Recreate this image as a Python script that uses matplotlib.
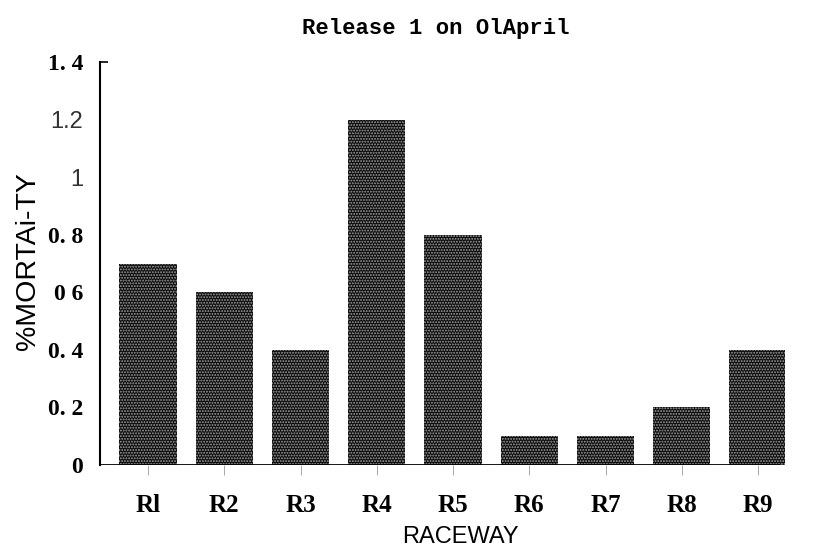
import matplotlib
matplotlib.use("Agg")
import matplotlib.pyplot as plt

# values
raceways = ["Rl", "R2", "R3", "R4", "R5", "R6", "R7", "R8", "R9"]
mortality = [0.7, 0.6, 0.4, 1.2, 0.8, 0.1, 0.1, 0.2, 0.4]
ytick_vals = [0, 0.2, 0.4, 0.6, 0.8, 1.0, 1.2, 1.4]
ytick_text = ["0", "0. 2", "0. 4", "0 6", "0. 8", "1", "1.2", "1. 4"]
ytick_bold = [True, True, True, True, True, False, False, True]

plt.rcParams["hatch.linewidth"] = 0.9

fig = plt.figure(figsize=(8.21, 5.53), dpi=100)
ax = fig.add_axes([0.1218, 0.159, 0.834, 0.729])

x = range(len(raceways))
ax.bar(x, mortality, width=0.75, color="#0e0e0e", edgecolor="#a0a0a0",
       linewidth=0, hatch="......", zorder=2)
ax.axhline(0, color="black", lw=2, xmin=0, xmax=0.99, zorder=3)

ax.set_xlim(-0.63, 8.35)
ax.set_ylim(0, 1.4)

for side in ["top", "right", "bottom"]:
    ax.spines[side].set_visible(False)
ax.spines["left"].set_linewidth(1.5)

ax.set_xticks(list(x))
ax.set_xticklabels(raceways, fontfamily="Liberation Serif", fontweight="bold",
                   fontsize=18)
ax.tick_params(axis="x", length=7, width=0.6, color="#999999", pad=14)

ax.set_yticks(ytick_vals)
ax.set_yticklabels(ytick_text)
for lbl, b in zip(ax.get_yticklabels(), ytick_bold):
    if b:
        lbl.set_fontfamily("Liberation Serif")
        lbl.set_fontweight("bold")
        lbl.set_fontsize(17)
    else:
        lbl.set_fontfamily("Liberation Sans")
        lbl.set_fontsize(17)
        lbl.set_color("#333333")
ax.tick_params(axis="y", direction="in", length=6, width=1.2, pad=12)
for i, t in enumerate(ax.yaxis.get_major_ticks()):
    t.tick1line.set_visible(i == len(ytick_vals) - 1)

ax.set_xlabel("RACEWAY", fontfamily="Liberation Sans", fontsize=17)
ax.xaxis.set_label_coords(0.527, -0.152)
ax.set_ylabel("%MORTAi-TY", fontfamily="Liberation Sans", fontsize=20.5)
ax.yaxis.set_label_coords(-0.086, 0.505)
ax.set_title("Release 1 on OlApril", fontfamily="Liberation Mono",
             fontweight="bold", fontsize=16, pad=20, x=0.49)

fig.savefig("out.png", dpi=100)
